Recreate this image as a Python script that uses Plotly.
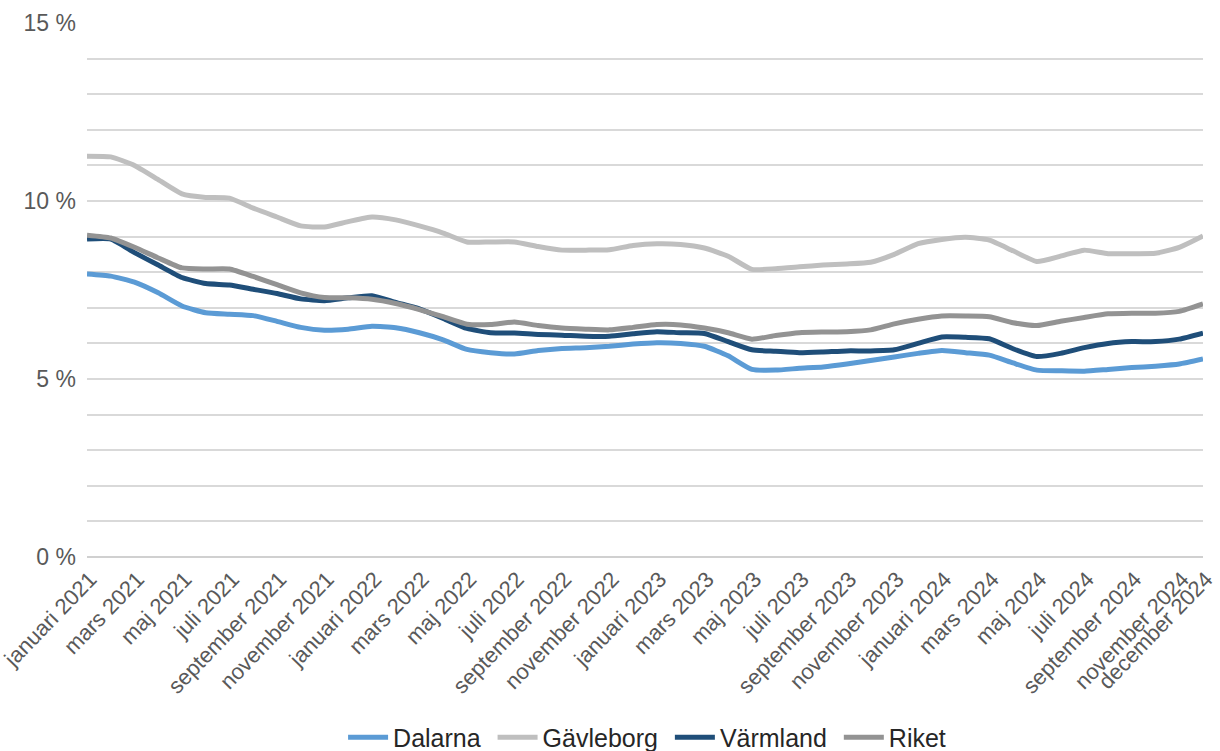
import plotly.graph_objects as go

month_names = ["januari", "februari", "mars", "april", "maj", "juni", "juli",
               "augusti", "september", "oktober", "november", "december"]
years = [2021, 2022, 2023, 2024]
months = [f"{m} {y}" for y in years for m in month_names]

dalarna = [7.95, 7.89, 7.72, 7.42, 7.05, 6.86, 6.82, 6.78, 6.62, 6.45, 6.37, 6.40,
           6.48, 6.44, 6.30, 6.10, 5.83, 5.74, 5.70, 5.80, 5.86, 5.88, 5.92, 5.98,
           6.02, 6.00, 5.92, 5.65, 5.27, 5.25, 5.30, 5.34, 5.42, 5.52, 5.62, 5.72,
           5.80, 5.74, 5.67, 5.45, 5.25, 5.23, 5.22, 5.27, 5.32, 5.36, 5.42, 5.56]
gavleborg = [11.26, 11.24, 11.00, 10.60, 10.20, 10.10, 10.08, 9.80, 9.55, 9.30, 9.27, 9.42,
             9.55, 9.47, 9.30, 9.10, 8.85, 8.85, 8.85, 8.72, 8.62, 8.62, 8.63, 8.75,
             8.80, 8.78, 8.68, 8.45, 8.08, 8.10, 8.15, 8.20, 8.23, 8.28, 8.50, 8.80,
             8.92, 8.98, 8.90, 8.60, 8.30, 8.45, 8.62, 8.52, 8.52, 8.53, 8.70, 9.02]
varmland = [8.93, 8.93, 8.55, 8.20, 7.85, 7.68, 7.64, 7.52, 7.40, 7.25, 7.20, 7.28,
            7.34, 7.15, 6.97, 6.70, 6.42, 6.30, 6.29, 6.25, 6.23, 6.20, 6.20, 6.27,
            6.33, 6.30, 6.28, 6.05, 5.82, 5.78, 5.74, 5.76, 5.79, 5.79, 5.82, 6.00,
            6.18, 6.17, 6.13, 5.85, 5.63, 5.72, 5.88, 6.00, 6.05, 6.05, 6.12, 6.29]
riket = [9.04, 8.96, 8.70, 8.40, 8.12, 8.09, 8.09, 7.88, 7.65, 7.42, 7.29, 7.28,
         7.24, 7.12, 6.95, 6.75, 6.54, 6.53, 6.60, 6.50, 6.43, 6.40, 6.38, 6.45,
         6.53, 6.52, 6.43, 6.30, 6.12, 6.22, 6.30, 6.32, 6.33, 6.38, 6.55, 6.68,
         6.77, 6.77, 6.75, 6.58, 6.50, 6.62, 6.73, 6.83, 6.85, 6.85, 6.90, 7.11]

series = [
    ("Dalarna", dalarna, "#5b9bd5"),
    ("Gävleborg", gavleborg, "#bfbfbf"),
    ("Värmland", varmland, "#1f4e79"),
    ("Riket", riket, "#939393"),
]

tick_labels = months[0::2] + [months[-1]]

fig = go.Figure()
for name, vals, color in series:
    fig.add_trace(go.Scatter(
        x=months, y=vals, name=name + " ", mode="lines",
        line=dict(color=color, width=5, shape="spline", smoothing=0.5),
    ))

font_family = "Liberation Sans, Arial, sans-serif"
fig.update_layout(
    width=1220, height=751,
    margin=dict(l=87, r=17, t=23, b=194, autoexpand=False),
    paper_bgcolor="white", plot_bgcolor="white",
    font=dict(family=font_family, color="#595959"),
    showlegend=True,
    legend=dict(orientation="h", x=0.505, xanchor="center", y=-0.295, yanchor="top",
                font=dict(size=25, color="#262626"), itemwidth=40,
                tracegroupgap=0),
    xaxis=dict(
        type="category", categoryorder="array", categoryarray=months,
        range=[0, len(months) - 1], automargin=False,
        tickmode="array", tickvals=tick_labels, ticktext=tick_labels,
        tickangle=-46, tickfont=dict(size=22, color="#595959"),
        ticklabelshift=3, ticklabelstandoff=4,
        showgrid=False, showline=False, zeroline=False, ticks="",
    ),
    yaxis=dict(
        range=[0, 15], dtick=5, tick0=0, ticksuffix=" %", automargin=False,
        tickfont=dict(size=23, color="#595959"), ticklabelstandoff=10,
        showgrid=True, gridcolor="#d9d9d9", gridwidth=2,
        minor=dict(dtick=1, showgrid=True, gridcolor="#d9d9d9", gridwidth=1.5),
        zeroline=True, zerolinecolor="#d0d0d0", zerolinewidth=2,
        showline=False, ticks="",
    ),
)

fig.write_html("out.html", config={"displayModeBar": False},
               post_script="document.body.style.margin='0px';")
